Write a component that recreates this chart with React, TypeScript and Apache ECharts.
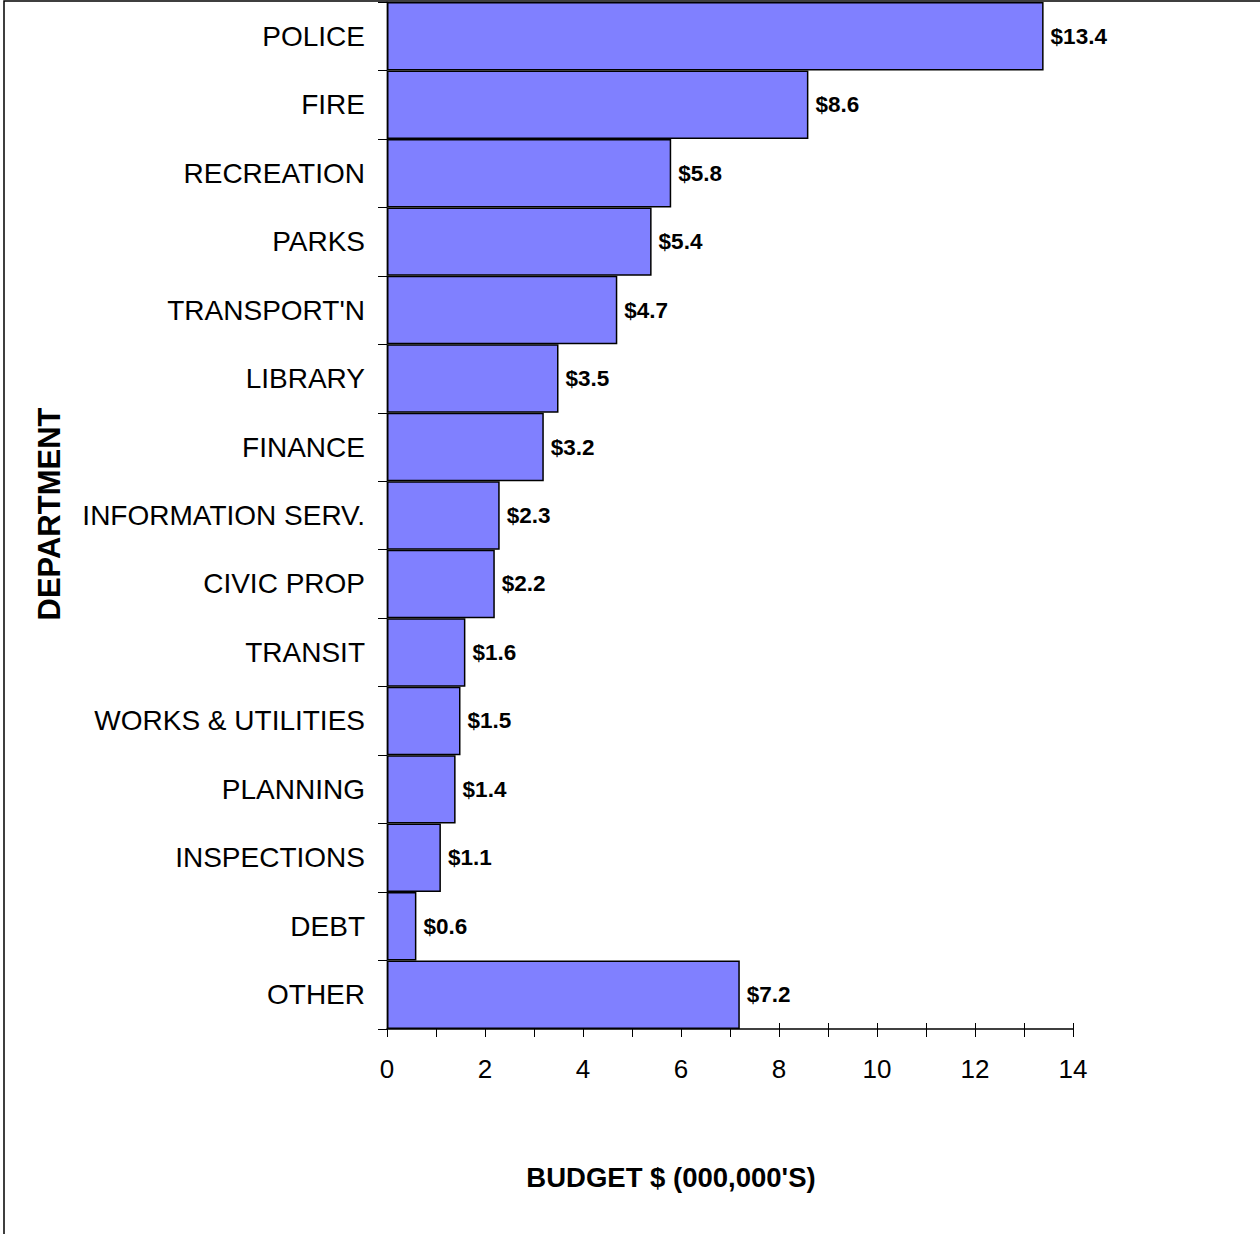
import React, { useEffect, useRef } from "react";
import * as echarts from "echarts";

const departments = [
  "POLICE",
  "FIRE",
  "RECREATION",
  "PARKS",
  "TRANSPORT'N",
  "LIBRARY",
  "FINANCE",
  "INFORMATION SERV.",
  "CIVIC PROP",
  "TRANSIT",
  "WORKS & UTILITIES",
  "PLANNING",
  "INSPECTIONS",
  "DEBT",
  "OTHER",
];

const budgets = [13.4, 8.6, 5.8, 5.4, 4.7, 3.5, 3.2, 2.3, 2.2, 1.6, 1.5, 1.4, 1.1, 0.6, 7.2];

const FONT = "'Liberation Sans', Arial, Helvetica, sans-serif";

export default function App() {
  const ref = useRef<HTMLDivElement>(null);

  useEffect(() => {
    if (!ref.current) return;
    const chart = echarts.init(ref.current, null, { renderer: "svg" });
    chart.setOption({
      animation: false,
      backgroundColor: "#ffffff",
      grid: { left: 387, right: 187, top: 2, bottom: 205, containLabel: false },
      xAxis: [
        {
          type: "value",
          min: 0,
          max: 14,
          interval: 1,
          splitLine: { show: false },
          axisLine: { show: true, lineStyle: { color: "#000", width: 1.5 } },
          axisTick: { show: true, length: 8, inside: false, lineStyle: { color: "#000", width: 1 } },
          axisLabel: {
            color: "#000",
            fontFamily: FONT,
            fontSize: 26,
            margin: 27,
            formatter: (v: number) => (v % 2 === 0 ? String(v) : ""),
          },
        },
        {
          // inner half of the crossing tick marks
          type: "value",
          position: "bottom",
          min: 0,
          max: 14,
          interval: 1,
          splitLine: { show: false },
          axisLine: { show: false },
          axisTick: { show: true, length: 6, inside: true, lineStyle: { color: "#000", width: 1 } },
          axisLabel: { show: false },
        },
      ],
      yAxis: {
        type: "category",
        data: departments,
        inverse: true,
        axisLine: { show: true, lineStyle: { color: "#808080", width: 1.5 } },
        axisTick: { show: true, length: 9, lineStyle: { color: "#000", width: 1 } },
        axisLabel: {
          color: "#000",
          fontFamily: FONT,
          fontSize: 28,
          margin: 22,
        },
      },
      series: [
        {
          type: "bar",
          data: budgets,
          barCategoryGap: "0%",
          itemStyle: { color: "#8080FF", borderColor: "#000", borderWidth: 1.5 },
          label: {
            show: true,
            position: "right",
            distance: 7,
            color: "#000",
            fontFamily: FONT,
            fontWeight: "bold",
            fontSize: 22.5,
            formatter: (p: any) => "$" + Number(p.value).toFixed(1),
          },
        },
      ],
      graphic: [
        {
          type: "rect",
          shape: { x: 4, y: 1, width: 1300, height: 1300 },
          style: { fill: "none", stroke: "#000", lineWidth: 1.5 },
          silent: true,
          z: 100,
        },
        {
          type: "text",
          x: 671,
          y: 1177,
          style: {
            text: "BUDGET $ (000,000'S)",
            fontFamily: FONT,
            fontWeight: "bold",
            fontSize: 27.5,
            fill: "#000",
            align: "center",
            verticalAlign: "middle",
          },
        },
        {
          type: "text",
          x: 49,
          y: 514,
          rotation: Math.PI / 2,
          style: {
            text: "DEPARTMENT",
            fontFamily: FONT,
            fontWeight: "bold",
            fontSize: 31,
            fill: "#000",
            align: "center",
            verticalAlign: "middle",
          },
        },
      ],
    });
    return () => chart.dispose();
  }, []);

  return (
    <div
      ref={ref}
      style={{ position: "absolute", left: 0, top: 0, width: 1260, height: 1234 }}
    />
  );
}
